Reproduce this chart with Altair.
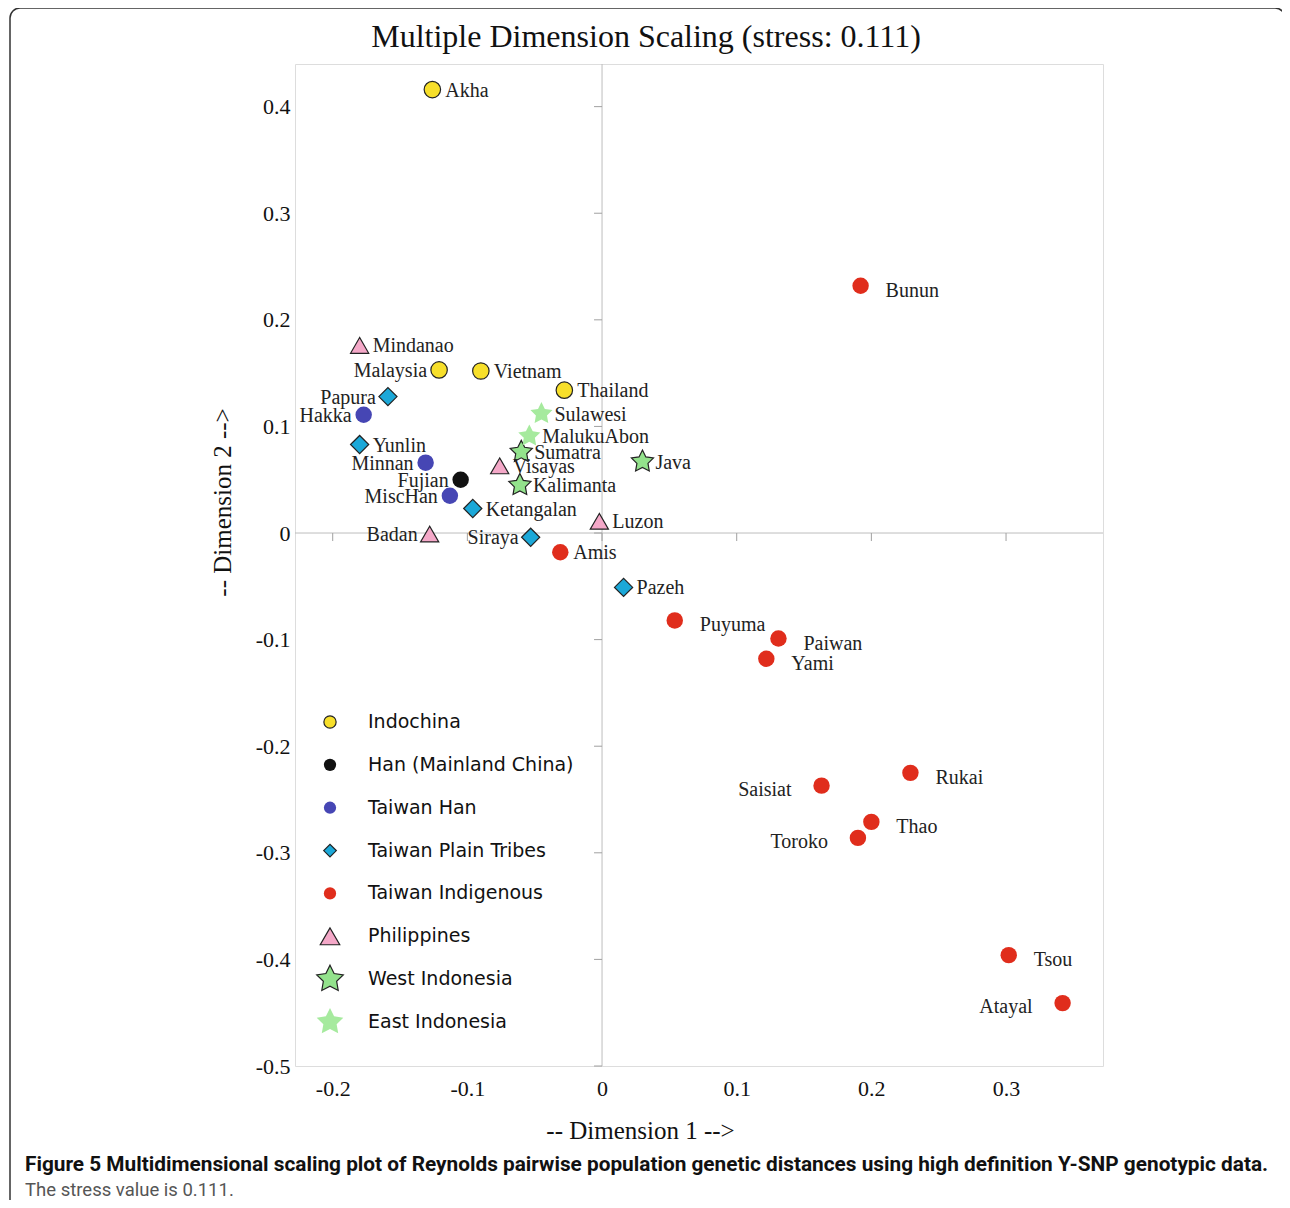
import altair as alt
import pandas as pd

# ---------------- data ----------------
names = ["Akha", "Malaysia", "Vietnam", "Thailand",
         "Fujian",
         "Hakka", "Minnan", "MiscHan",
         "Papura", "Yunlin", "Ketangalan", "Siraya", "Pazeh",
         "Bunun", "Amis", "Puyuma", "Paiwan", "Yami", "Rukai", "Saisiat",
         "Thao", "Toroko", "Tsou", "Atayal",
         "Mindanao", "Visayas", "Luzon", "Badan",
         "Sumatra", "Java", "Kalimanta",
         "Sulawesi", "MalukuAbon"]
dim1 = [-0.126, -0.121, -0.090, -0.028,
        -0.105,
        -0.177, -0.131, -0.113,
        -0.159, -0.180, -0.096, -0.053, 0.016,
        0.192, -0.031, 0.054, 0.131, 0.122, 0.229, 0.163,
        0.200, 0.190, 0.302, 0.342,
        -0.180, -0.076, -0.002, -0.128,
        -0.060, 0.030, -0.061,
        -0.045, -0.054]
dim2 = [0.416, 0.153, 0.152, 0.134,
        0.050,
        0.111, 0.066, 0.035,
        0.128, 0.083, 0.023, -0.004, -0.051,
        0.232, -0.018, -0.082, -0.099, -0.118, -0.225, -0.237,
        -0.271, -0.286, -0.396, -0.441,
        0.176, 0.063, 0.011, -0.001,
        0.076, 0.067, 0.045,
        0.112, 0.091]
group_of = (["Indochina"] * 4 + ["Han (Mainland China)"] + ["Taiwan Han"] * 3 +
            ["Taiwan Plain Tribes"] * 5 + ["Taiwan Indigenous"] * 11 +
            ["Philippines"] * 4 + ["West Indonesia"] * 3 + ["East Indonesia"] * 2)

groups = ["Indochina", "Han (Mainland China)", "Taiwan Han", "Taiwan Plain Tribes",
          "Taiwan Indigenous", "Philippines", "West Indonesia", "East Indonesia"]

# label placement groups (which side of the marker the name sits)
left_near = ["Malaysia", "Papura", "Hakka", "Minnan", "Fujian", "MiscHan", "Badan", "Siraya"]
right_far = ["Bunun", "Puyuma", "Paiwan", "Yami", "Rukai", "Thao", "Tsou"]
left_far = ["Saisiat", "Toroko", "Atayal"]

x_ticks = [-0.2, -0.1, 0.0, 0.1, 0.2, 0.3]
y_ticks = [0.4, 0.3, 0.2, 0.1, 0.0, -0.1, -0.2, -0.3, -0.4, -0.5]

title_text = "Multiple Dimension Scaling (stress: 0.111)"
x_title = "-- Dimension 1 -->"
y_title = "-- Dimension 2 -->"
caption_bold = ("Figure 5 Multidimensional scaling plot of Reynolds pairwise population "
                "genetic distances using high definition Y-SNP genotypic data.")
caption_plain = "The stress value is 0.111."

# ---------------- styling ----------------
STAR = ("M0,-1L0.294,-0.405L0.951,-0.309L0.476,0.155L0.588,0.809L0,0.5"
        "L-0.588,0.809L-0.476,0.155L-0.951,-0.309L-0.294,-0.405Z")
shapes = ["circle", "circle", "circle", "diamond", "circle", "triangle-up", STAR, STAR]
fills = ["#f7df2a", "#111111", "#4646b4", "#1ba8d8", "#e02d1c", "#f4a8c8", "#93e28c", "#a6ea9e"]
strokes = ["#222222", "transparent", "transparent", "#222222", "transparent",
           "#222222", "#222222", "transparent"]

# marker classes: (groups, size in plot, size in legend)
classes = [
    (["Indochina", "Han (Mainland China)", "Taiwan Han", "Taiwan Indigenous"], 270, 150),
    (["Taiwan Plain Tribes"], 330, 160),
    (["Philippines"], 330, 380),
    (["West Indonesia", "East Indonesia"], 540, 780),
]

W, H = 808, 1002
XD = [-0.228, 0.372]
YD = [-0.5, 0.44]

df = pd.DataFrame({"name": names, "x": dim1, "y": dim2, "group": group_of})
legend_df = pd.DataFrame({"group": groups, "row": list(range(len(groups)))})

serif = "Liberation Serif"

xaxis = alt.Axis(values=x_ticks, labelExpr="'' + round(datum.value*10)/10",
                 grid=False, domain=False, ticks=False,
                 labelPadding=22, labelBaseline="middle",
                 labelFont=serif, labelFontSize=22, labelColor="#111",
                 title=x_title, titleFont=serif, titleFontSize=25, titleFontWeight="normal",
                 titleColor="#111", titleX=345, titleY=64, titleAlign="center",
                 titleBaseline="middle")
yaxis = alt.Axis(values=y_ticks, labelExpr="'' + round(datum.value*10)/10",
                 grid=False, domain=False, ticks=False, labelPadding=5,
                 labelFont=serif, labelFontSize=22, labelColor="#111",
                 title=y_title, titleFont=serif, titleFontSize=25, titleFontWeight="normal",
                 titleColor="#111", titleX=-73, titleY=438, titleAlign="center",
                 titleBaseline="middle", titleAngle=270)

base = alt.Chart(df)
X = alt.X("x:Q", scale=alt.Scale(domain=XD, nice=False, zero=False), axis=xaxis)
Y = alt.Y("y:Q", scale=alt.Scale(domain=YD, nice=False, zero=False), axis=yaxis)

shape_enc = alt.Shape("group:N", scale=alt.Scale(domain=groups, range=shapes), legend=None)
fill_enc = alt.Fill("group:N", scale=alt.Scale(domain=groups, range=fills), legend=None)
stroke_enc = alt.Stroke("group:N", scale=alt.Scale(domain=groups, range=strokes), legend=None)

# zero lines and their ticks
zero_v = alt.Chart(pd.DataFrame({"x": [0.0]})).mark_rule(color="#bdbdbd", strokeWidth=1).encode(x="x:Q")
zero_h = alt.Chart(pd.DataFrame({"y": [0.0]})).mark_rule(color="#bdbdbd", strokeWidth=1).encode(y="y:Q")
xticks_m = alt.Chart(pd.DataFrame({"x": x_ticks})).mark_rule(
    color="#a0a0a0", strokeWidth=1, y2Offset=8
).encode(x="x:Q", y=alt.datum(0), y2=alt.datum(0))
yticks_m = alt.Chart(pd.DataFrame({"y": y_ticks})).mark_rule(
    color="#a0a0a0", strokeWidth=1, x2Offset=-8
).encode(y="y:Q", x=alt.datum(0), x2=alt.datum(0))

point_layers = []
for members, sz, _ in classes:
    point_layers.append(
        base.transform_filter(alt.FieldOneOfPredicate(field="group", oneOf=members))
        .mark_point(filled=True, opacity=1, strokeWidth=1.2, size=sz)
        .encode(x=X, y=Y, shape=shape_enc, fill=fill_enc, stroke=stroke_enc)
    )

def labels(pred, align, dx, dy):
    return base.transform_filter(pred).mark_text(
        align=align, baseline="middle", dx=dx, dy=dy,
        font=serif, fontSize=20, color="#222"
    ).encode(x="x:Q", y="y:Q", text="name:N")

all_special = left_near + right_far + left_far
lab_rn = labels(~alt.FieldOneOfPredicate(field="name", oneOf=all_special), "left", 13, 1)
lab_ln = labels(alt.FieldOneOfPredicate(field="name", oneOf=left_near), "right", -12, 1)
lab_rf = labels(alt.FieldOneOfPredicate(field="name", oneOf=right_far), "left", 25, 5)
lab_lf = labels(alt.FieldOneOfPredicate(field="name", oneOf=left_far), "right", -30, 4)

# figure frame, title and caption (journal figure box)
frame = alt.Chart(pd.DataFrame({"k": [0]})).mark_rect(
    fill="white", fillOpacity=0, stroke="#333", strokeWidth=1.5, cornerRadius=10
).encode(x=alt.value(-285), x2=alt.value(990), y=alt.value(-56), y2=alt.value(1148))

title_m = alt.Chart(pd.DataFrame({"t": [title_text]})).mark_text(
    align="center", baseline="middle", font=serif, fontSize=32, color="#111"
).encode(x=alt.value(351), y=alt.value(-27), text="t:N")

cap1 = alt.Chart(pd.DataFrame({"t": [caption_bold]})).mark_text(
    align="left", baseline="middle", font="Roboto", fontSize=20.8, fontWeight="bold",
    color="#111"
).encode(x=alt.value(-270), y=alt.value(1101), text="t:N")
cap2 = alt.Chart(pd.DataFrame({"t": [caption_plain]})).mark_text(
    align="left", baseline="middle", font="Roboto", fontSize=18.5, color="#555"
).encode(x=alt.value(-270), y=alt.value(1126), text="t:N")

main = alt.layer(frame, zero_v, zero_h, xticks_m, yticks_m, *point_layers,
                 lab_rn, lab_ln, lab_rf, lab_lf, title_m, cap1, cap2)

# ---------------- legend (inside the plot, lower left) ----------------
leg_base = alt.Chart(legend_df)
LY = alt.Y("row:Q", scale=alt.Scale(domain=[0, len(groups) - 1], range=[658, 958]), axis=None)
leg_layers = []
for members, _, lsz in classes:
    leg_layers.append(
        leg_base.transform_filter(alt.FieldOneOfPredicate(field="group", oneOf=members))
        .mark_point(filled=True, opacity=1, strokeWidth=1.2, size=lsz)
        .encode(x=alt.value(35), y=LY, shape=shape_enc, fill=fill_enc, stroke=stroke_enc)
    )
leg_text = leg_base.mark_text(
    align="left", baseline="middle", font="DejaVu Sans", fontSize=19, color="#111"
).encode(x=alt.value(73), y=LY, text="group:N")
leg = alt.layer(*leg_layers, leg_text)

chart = alt.layer(main, leg).resolve_scale(y="independent").properties(
    width=W, height=H,
    autosize=alt.AutoSizeParams(type="none"),
    padding={"left": 287, "top": 56, "right": 1274 - 287 - W, "bottom": 1192 - 56 - H},
).configure_view(stroke="#d8d8d8", strokeWidth=1).configure(background="white")

chart.save("out.html", embed_options={"renderer": "svg", "actions": False})
